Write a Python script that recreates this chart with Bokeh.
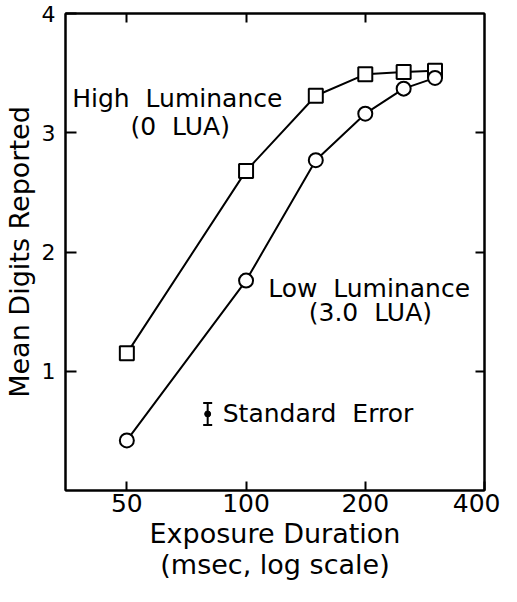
from bokeh.plotting import figure
from bokeh.models import (ColumnDataSource, FixedTicker, LinearAxis, LogAxis, Label,
                          Whisker, TeeHead, Range1d)
from bokeh.embed import file_html
from bokeh.resources import INLINE

# ---- data ----
exposure_ms = [50, 100, 150, 200, 250, 300]
high_luminance = [1.15, 2.68, 3.31, 3.49, 3.51, 3.52]
low_luminance = [0.42, 1.76, 2.77, 3.16, 3.37, 3.46]

se_x = [80]
se_mean = [0.642]
se_half = [0.092]

x_ticks = [50, 100, 200, 400]
y_ticks = [1, 2, 3, 4]

FONT = "DejaVu Sans"
NB = "\u00a0"

p = figure(width=500, height=586, x_axis_type="log",
           x_range=Range1d(35, 400), y_range=Range1d(0, 4),
           output_backend="svg", toolbar_location=None,
           min_border_left=60, min_border_top=13, min_border_right=16, min_border_bottom=96,
           background_fill_color="white", border_fill_color="white")
p.xgrid.visible = False
p.ygrid.visible = False
p.outline_line_color = "black"
p.outline_line_width = 2

# bottom axis
xa = p.xaxis[0]
xa.ticker = FixedTicker(ticks=x_ticks)
xa.major_label_overrides = {t: str(t) for t in x_ticks}
xa.minor_tick_line_color = None
xa.major_tick_in = 9
xa.major_tick_out = 0
xa.major_tick_line_width = 2
xa.axis_line_width = 2
xa.major_label_standoff = 3
xa.major_label_text_font = FONT
xa.major_label_text_font_size = "25px"
xa.major_label_text_color = "black"
xa.axis_label = "Exposure Duration\n(msec, log scale)"
xa.axis_label_text_font = FONT
xa.axis_label_text_font_size = "27px"
xa.axis_label_text_font_style = "normal"
xa.axis_label_text_color = "black"
xa.axis_label_text_line_height = 1.0
xa.axis_label_standoff = 3

# left axis
ya = p.yaxis[0]
ya.ticker = FixedTicker(ticks=y_ticks)
ya.minor_tick_line_color = None
ya.major_tick_in = 11
ya.major_tick_out = 0
ya.major_tick_line_width = 2
ya.axis_line_width = 2
ya.major_label_standoff = 10
ya.major_label_text_font = FONT
ya.major_label_text_font_size = "22px"
ya.major_label_text_color = "black"
ya.axis_label = "Mean Digits Reported"
ya.axis_label_text_font = FONT
ya.axis_label_text_font_size = "27px"
ya.axis_label_text_font_style = "normal"
ya.axis_label_text_color = "black"
ya.axis_label_standoff = 4

# mirrored tick marks on top and right
top = LogAxis(ticker=FixedTicker(ticks=x_ticks[:-1]),
              major_label_overrides={t: "" for t in x_ticks[:-1]},
              major_label_text_font_size="0px", major_label_standoff=0,
              major_tick_in=9, major_tick_out=0, major_tick_line_width=2,
              minor_tick_line_color=None, axis_line_width=2)
p.add_layout(top, "above")
right = LinearAxis(ticker=FixedTicker(ticks=y_ticks[:-1]),
                   major_label_overrides={t: "" for t in y_ticks[:-1]},
                   major_label_text_font_size="0px", major_label_standoff=0,
                   major_tick_in=9, major_tick_out=0, major_tick_line_width=2,
                   minor_tick_line_color=None, axis_line_width=2)
p.add_layout(right, "right")

# series
src = ColumnDataSource(dict(x=exposure_ms, hi=high_luminance, lo=low_luminance))
p.line("x", "hi", source=src, line_color="black", line_width=2)
p.line("x", "lo", source=src, line_color="black", line_width=2)
p.scatter("x", "hi", source=src, marker="square", size=14,
          fill_color="white", line_color="black", line_width=2)
p.scatter("x", "lo", source=src, marker="circle", size=14,
          fill_color="white", line_color="black", line_width=2)

# standard error marker
se_src = ColumnDataSource(dict(x=se_x, y=se_mean,
                               upper=[m + h for m, h in zip(se_mean, se_half)],
                               lower=[m - h for m, h in zip(se_mean, se_half)]))
p.add_layout(Whisker(source=se_src, base="x", upper="upper", lower="lower",
                     dimension="height", line_color="black", line_width=2,
                     upper_head=TeeHead(size=9, line_width=2, line_color="black"),
                     lower_head=TeeHead(size=9, line_width=2, line_color="black")))
p.scatter("x", "y", source=se_src, marker="circle", size=6,
          fill_color="black", line_color="black")

# annotations
def lab(x, y, text, align):
    p.add_layout(Label(x=x, y=y, text=text, text_align=align, text_baseline="middle",
                       text_font=FONT, text_font_size="25px", text_color="black"))

lab(36.4, 3.29, "High" + NB + NB + "Luminance", "left")
lab(68.2, 3.05, "(0" + NB + NB + "LUA)", "center")
lab(113.7, 1.69, "Low" + NB + NB + "Luminance", "left")
lab(206, 1.49, "(3.0" + NB + NB + "LUA)", "center")
lab(87.3, 0.642, "Standard" + NB + NB + "Error", "left")

open("out.html", "w").write(file_html(p, INLINE))
